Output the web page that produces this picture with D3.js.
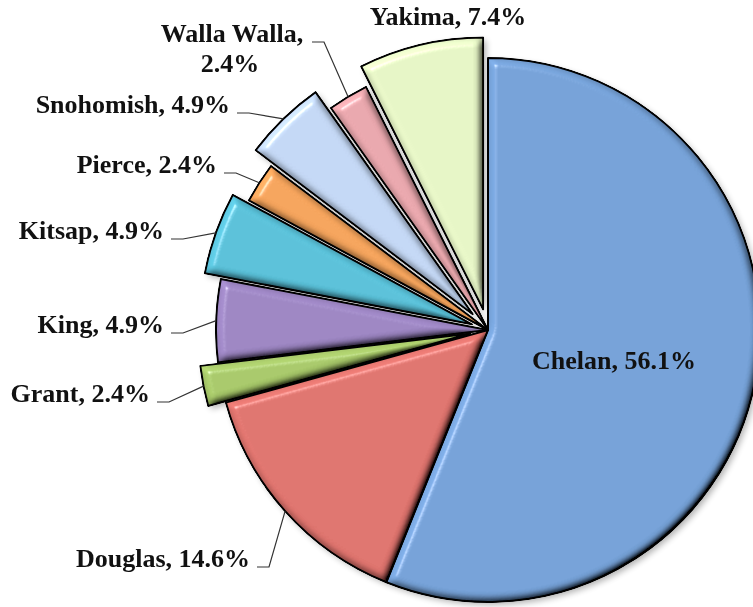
<!DOCTYPE html>
<html>
<head>
<meta charset="utf-8">
<script src="https://cdn.jsdelivr.net/npm/d3@7"></script>
<style>
  html, body { margin: 0; padding: 0; background: #fff; }
  svg { display: block; }
  .lbl { font-family: "Liberation Serif", "Times New Roman", serif; font-weight: bold; font-size: 26px; fill: #111; }
  .leader { fill: none; stroke: #333; stroke-width: 1.2; }
</style>
</head>
<body>
<svg id="chart" width="753" height="607"></svg>
<script>
// dados
const counties = ["Chelan", "Douglas", "Grant", "King", "Kitsap", "Pierce", "Snohomish", "Walla Walla", "Yakima"];
const shares = [56.1, 14.6, 2.4, 4.9, 4.9, 2.4, 4.9, 2.4, 7.4];
const colors = ["#76a2d8", "#df746e", "#a8c96a", "#9d86c3", "#5ac1d9", "#f5a45c", "#c4d8f5", "#e9a7ad", "#e6f5c6"];

// afastamento de cada fatia (px)
const explode = [0, 0, 18, 0, 17, 0, 22, 0, 21];

// posição dos rótulos: x, y (linha de base), alinhamento
const labelPos = {
  "Chelan":      { x: 614, y: 369, anchor: "middle", leader: false },
  "Douglas":     { x: 250, y: 567, anchor: "end", leader: true },
  "Grant":       { x: 150, y: 402, anchor: "end", leader: true },
  "King":        { x: 164, y: 333, anchor: "end", leader: true },
  "Kitsap":      { x: 164, y: 239, anchor: "end", leader: true },
  "Pierce":      { x: 217, y: 173, anchor: "end", leader: true },
  "Snohomish":   { x: 230, y: 113, anchor: "end", leader: true },
  "Walla Walla": { x: 232, y: 42, anchor: "middle", leader: true, wrap: true, lineEnd: 305 },
  "Yakima":      { x: 448, y: 25, anchor: "middle", leader: false }
};

const config = { cx: 488, cy: 330, radius: 272 };

const svg = d3.select('#chart');
const defs = svg.append('defs');

// bisel (efeito 3D)
const bevel = defs.append('filter').attr('id', 'bevel')
  .attr('x', '-5%').attr('y', '-5%').attr('width', '110%').attr('height', '110%');
bevel.append('feGaussianBlur').attr('in', 'SourceAlpha').attr('stdDeviation', 4).attr('result', 'blur');
bevel.append('feDiffuseLighting').attr('in', 'blur').attr('surfaceScale', 9)
  .attr('diffuseConstant', 1).attr('lighting-color', '#fff').attr('result', 'diff')
  .append('feDistantLight').attr('azimuth', 225).attr('elevation', 55);
bevel.append('feComposite').attr('in', 'SourceGraphic').attr('in2', 'diff')
  .attr('operator', 'arithmetic').attr('k1', 1.22).attr('k2', 0).attr('k3', 0).attr('k4', 0).attr('result', 'shaded');
bevel.append('feSpecularLighting').attr('in', 'blur').attr('surfaceScale', 9)
  .attr('specularConstant', 0.45).attr('specularExponent', 90).attr('lighting-color', '#fff').attr('result', 'spec')
  .append('feDistantLight').attr('azimuth', 225).attr('elevation', 55);
bevel.append('feComposite').attr('in', 'spec').attr('in2', 'SourceAlpha').attr('operator', 'in').attr('result', 'specIn');
bevel.append('feComposite').attr('in', 'shaded').attr('in2', 'specIn')
  .attr('operator', 'arithmetic').attr('k1', 0).attr('k2', 1).attr('k3', 1).attr('k4', 0).attr('result', 'lit');
bevel.append('feComposite').attr('in', 'lit').attr('in2', 'SourceAlpha').attr('operator', 'in');

// sombra
const shadow = defs.append('filter').attr('id', 'shadow')
  .attr('x', '-10%').attr('y', '-10%').attr('width', '120%').attr('height', '120%');
shadow.append('feGaussianBlur').attr('stdDeviation', 3);

const rows = counties.map((name, i) => ({ name, value: shares[i], color: colors[i], off: explode[i] }));

const pie = d3.pie().sort(null).value(d => d.value);
const arcs = pie(rows);

const arc = d3.arc().innerRadius(0).outerRadius(config.radius);
const rim = d3.arc().innerRadius(config.radius).outerRadius(config.radius);

function shift(d) {
  const a = (d.startAngle + d.endAngle) / 2;
  return [Math.sin(a) * d.data.off, -Math.cos(a) * d.data.off];
}

const gPie = svg.append('g').attr('transform', `translate(${config.cx},${config.cy})`);

// sombra por baixo
gPie.append('g').attr('filter', 'url(#shadow)').attr('opacity', 0.3)
  .selectAll('path').data(arcs).join('path')
  .attr('transform', d => { const s = shift(d); return `translate(${s[0] + 3},${s[1] + 3})`; })
  .attr('d', arc).attr('fill', '#000');

gPie.append('g').selectAll('path.slice').data(arcs).join('path')
  .attr('class', 'slice')
  .attr('transform', d => { const s = shift(d); return `translate(${s[0]},${s[1]})`; })
  .attr('d', arc)
  .attr('fill', d => d.data.color)
  .attr('stroke', '#000')
  .attr('stroke-width', 2)
  .attr('stroke-linejoin', 'round')
  .attr('filter', 'url(#bevel)');

// linhas de chamada
const gLead = svg.append('g');
arcs.forEach(d => {
  const p = labelPos[d.data.name];
  if (!p.leader) return;
  const s = shift(d);
  const c = rim.centroid(d);
  const tx = config.cx + c[0] + s[0], ty = config.cy + c[1] + s[1];
  const endX = p.wrap ? p.lineEnd : p.x;
  const x0 = endX + 7, x1 = endX + 19;
  gLead.append('path').attr('class', 'leader')
    .attr('d', `M${x0},${p.y}H${x1}L${tx},${ty}`);
});

// rótulos
const gLbl = svg.append('g');
arcs.forEach(d => {
  const p = labelPos[d.data.name];
  const pct = d.data.value.toFixed(1) + '%';
  const t = gLbl.append('text').attr('class', 'lbl')
    .attr('x', p.x).attr('y', p.y).attr('text-anchor', p.anchor);
  if (p.wrap) {
    t.append('tspan').attr('x', p.x).attr('y', p.y).text(d.data.name + ',');
    t.append('tspan').attr('x', p.x - 2).attr('y', p.y + 30).text(pct);
  } else {
    t.text(`${d.data.name}, ${pct}`);
  }
});
</script>
</body>
</html>
